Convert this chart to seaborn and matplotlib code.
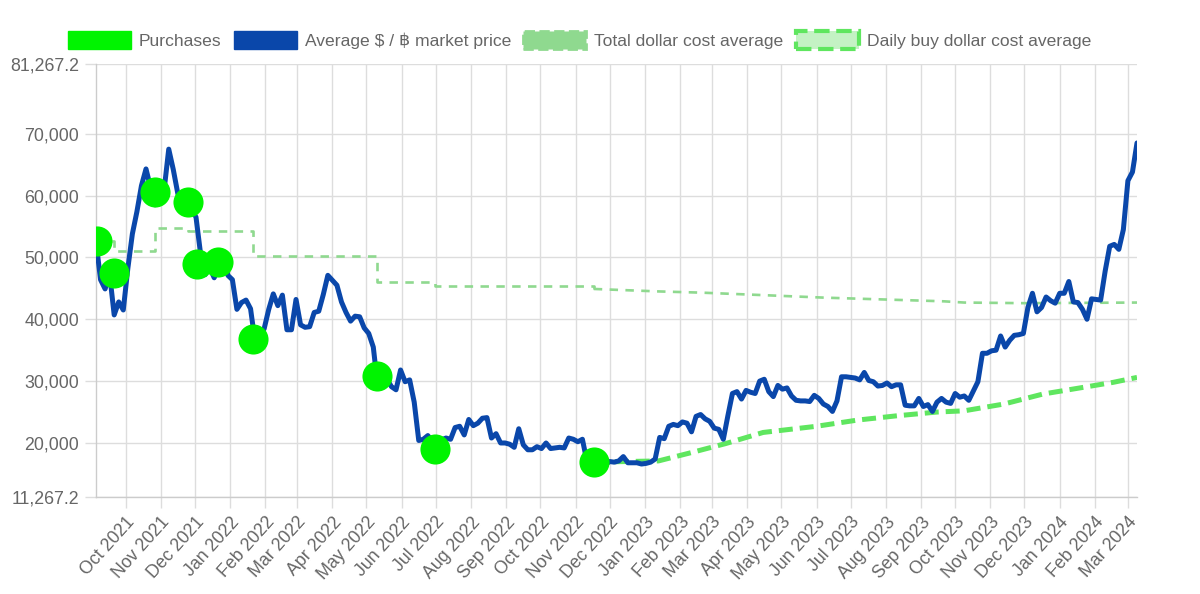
import seaborn as sns
import matplotlib.pyplot as plt
import matplotlib.dates as mdates
from matplotlib.patches import Patch
import pandas as pd

# average $/BTC market price, one reading every 4 days from 2021-09-05
price_start = "2021-09-05"
price_values = [
    52600, 46400, 44900, 47300, 40700, 42800, 41500, 48200, 53800, 57400,
    61600, 64300, 61300, 58500, 61300, 61000, 67500, 64200, 60300, 59700,
    57300, 57800, 56500, 50600, 47200, 48400, 46700, 48600, 50800, 47100,
    46400, 41600, 42700, 43100, 41700, 36300, 37200, 38500, 41600, 44100,
    42200, 43900, 38300, 38300, 43200, 39100, 38700, 38800, 41100, 41300,
    44000, 47100, 46300, 45500, 42800, 41100, 39700, 40500, 40400, 38600,
    37700, 35500, 29000, 31300, 30300, 29100, 28600, 31800, 29900, 30200,
    26600, 20400, 20600, 21200, 20200, 19300, 20500, 20800, 20600, 22500,
    22700, 21300, 23800, 22800, 23200, 24000, 24100, 20800, 21500, 20000,
    20000, 19800, 19300, 22300, 19700, 18900, 18900, 19400, 19100, 20000,
    19100, 19200, 19300, 19200, 20800, 20600, 20200, 20600, 17000, 16900,
    16700, 16600, 16500, 17000, 16900, 17100, 17800, 16800, 16800, 16800,
    16600, 16700, 16900, 17400, 20900, 20700, 22700, 23000, 22800, 23400,
    23200, 21800, 24300, 24600, 23900, 23500, 22400, 22200, 20600, 24400,
    28000, 28300, 27100, 28500, 28200, 28000, 30000, 30300, 28300, 27500,
    29300, 28700, 28900, 27600, 26900, 26800, 26800, 26700, 27700, 27200,
    26300, 25900, 25100, 26800, 30700, 30700, 30600, 30500, 30200, 31400,
    30100, 29900, 29200, 29300, 29700, 29100, 29400, 29400, 26100, 26000,
    26000, 27200, 25900, 26200, 25100, 26600, 27200, 26600, 26400, 28000,
    27400, 27600, 26900, 28400, 29900, 34500, 34500, 34900, 35000, 37300,
    35500, 36600, 37400, 37500, 37700, 41900, 44200, 41200, 41900, 43600,
    43000, 42600, 44200, 44200, 46100, 42800, 42700, 41600, 40000, 43300,
    43200, 43100, 47800, 51800, 52100, 51300, 54500, 62400, 63800, 68500,
]

purchase_dates = ["2021-09-06", "2021-09-21", "2021-10-27", "2021-11-25", "2021-12-03",
                  "2021-12-21", "2022-01-21", "2022-05-10", "2022-06-30", "2022-11-17"]
purchase_values = [52600, 47400, 60500, 59000, 49000, 49200, 36800, 30800, 19100, 16900]

# step part (one level per purchase) then the slow slide from daily buys
total_step_dates = ["2021-09-05", "2021-09-21", "2021-10-27", "2021-11-25", "2022-01-21",
                    "2022-05-10", "2022-06-30", "2022-11-17"]
total_step_values = [52600, 51100, 54800, 54200, 50200, 46000, 45300, 44900]
total_slide_dates = ["2022-11-17", "2022-12-15", "2023-01-13", "2023-02-20", "2023-04-15",
                     "2023-06-07", "2023-07-30", "2023-09-21", "2023-10-09", "2023-12-01",
                     "2024-03-09"]
total_slide_values = [44900, 44700, 44500, 44300, 43900, 43500, 43200, 42900, 42700, 42600,
                      42700]

daily_dca_dates = ["2022-11-17", "2022-12-15", "2023-01-13", "2023-02-12", "2023-03-13",
                   "2023-04-15", "2023-06-01", "2023-07-07", "2023-08-11", "2023-09-15",
                   "2023-10-09", "2023-11-13", "2023-12-17", "2024-01-22", "2024-02-17",
                   "2024-03-09"]
daily_dca_values = [16900, 17000, 17100, 18500, 19900, 21700, 22700, 23700, 24400, 25000,
                    25200, 26300, 27900, 29000, 29800, 30600]

y_ticks = [11267.2, 20000, 30000, 40000, 50000, 60000, 70000, 81267.2]
y_labels = ["11,267.2", "20,000", "30,000", "40,000", "50,000", "60,000", "70,000", "81,267.2"]

legend_labels = ["Purchases", "Average $ / \u0e3f market price",
                 "Total dollar cost average", "Daily buy dollar cost average"]

PRICE = "#0a47aa"
BUY = "#00f400"
TOTAL = "#8fd98f"
DAILY = "#5fe65f"
TEXT = "#666666"
GRID = "#dddddd"

sns.set_theme(style="whitegrid")
plt.rcParams["font.family"] = ["Liberation Sans", "DejaVu Sans"]

price = pd.DataFrame({"value": price_values})
price["date"] = pd.date_range(price_start, periods=len(price_values), freq="4D")
buys = pd.DataFrame({"date": pd.to_datetime(purchase_dates), "value": purchase_values})
daily = pd.DataFrame({"date": pd.to_datetime(daily_dca_dates), "value": daily_dca_values})

fig = plt.figure(figsize=(12, 5.94), dpi=100)
ax = fig.add_axes([0.08, 0.1633, 0.8675, 0.729])

total_style = dict(color=TOTAL, lw=1.9, linestyle=(0, (3.2, 2.8)), zorder=2)
ax.plot(pd.to_datetime(total_step_dates), total_step_values, drawstyle="steps-post",
        **total_style)
ax.plot(pd.to_datetime(total_slide_dates), total_slide_values, **total_style)
ax.plot(daily["date"], daily["value"], color=DAILY, lw=3.6,
        linestyle=(0, (2.8, 1.4)), zorder=2.5)
sns.lineplot(data=price, x="date", y="value", color=PRICE, lw=3.6, ax=ax,
             legend=False, zorder=3)
sns.scatterplot(data=buys, x="date", y="value", color=BUY, s=470, linewidth=0,
                ax=ax, legend=False, zorder=4)

ax.set_xlim(pd.Timestamp("2021-09-05"), pd.Timestamp("2024-03-09"))
ax.set_ylim(11267.2, 81267.2)
ax.set_yticks(y_ticks)
ax.set_yticklabels(y_labels)
ax.xaxis.set_major_locator(mdates.MonthLocator())
ax.xaxis.set_major_formatter(mdates.DateFormatter("%b %Y"))
ax.set_xlabel("")
ax.set_ylabel("")

for lab in ax.get_xticklabels():
    lab.set_rotation(48)
    lab.set_ha("right")
    lab.set_rotation_mode("anchor")

ax.tick_params(axis="both", labelsize=12.8, labelcolor=TEXT, color=GRID,
               length=8, width=1, left=True, bottom=True, pad=4)
ax.grid(True, color=GRID, lw=1)
ax.set_facecolor("white")
for side in ["top", "right"]:
    ax.spines[side].set_visible(False)
for side in ["left", "bottom"]:
    ax.spines[side].set_visible(True)
    ax.spines[side].set_color("#cccccc")
    ax.spines[side].set_linewidth(1)

handles = [
    Patch(facecolor=BUY, edgecolor=BUY),
    Patch(facecolor=PRICE, edgecolor=PRICE),
    Patch(facecolor=TOTAL, edgecolor=TOTAL, linestyle="--", lw=2),
    Patch(facecolor="#c4f2c4", edgecolor=DAILY, linestyle="--", lw=3),
]
fig.legend(handles, legend_labels, loc="center", bbox_to_anchor=(0.483, 0.933),
           ncol=4, frameon=False, fontsize=12.6, labelcolor=TEXT,
           handlelength=3.6, handleheight=1.25, handletextpad=0.45,
           columnspacing=0.7)

fig.savefig("out.png", dpi=100, facecolor="white")
